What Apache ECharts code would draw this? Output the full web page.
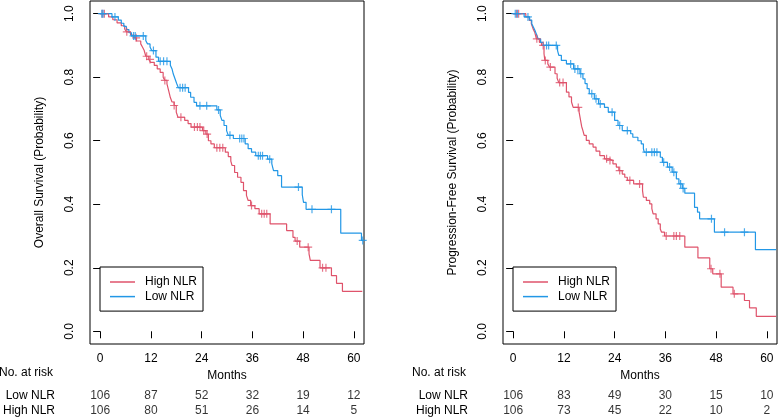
<!DOCTYPE html>
<html>
<head>
<meta charset="utf-8">
<script src="https://cdn.jsdelivr.net/npm/echarts@6/dist/echarts.min.js"></script>
<style>
html,body{margin:0;padding:0;background:#fff;}
#chart{width:778px;height:419px;}
</style>
</head>
<body>
<div id="chart"></div>
<script>
// ---------- data ----------
const monthTicks = [0, 12, 24, 36, 48, 60];
const probTicks = [0, 0.2, 0.4, 0.6, 0.8, 1.0];
const groupNames = ['High NLR', 'Low NLR'];
const riskRows = ['High NLR', 'Low NLR'];

// Overall survival, High NLR
const osHighTime = [0,2.0,3.0,4.0,5.0,5.8,6.2,7.2,8.0,8.6,9.6,10.0,10.4,10.8,11.5,11.9,12.8,13.5,14.2,14.9,15.3,15.8,16.2,16.6,17.0,17.5,18.0,18.4,20.0,20.8,21.5,24.2,25.0,25.6,26.2,27.0,29.6,30.3,30.9,31.2,31.8,32.5,33.3,33.9,34.6,35.0,35.6,36.6,37.6,40.2,44.1,45.6,46.1,47.2,49.4,49.7,52.0,54.7,55.9,57.3];
const osHighSurv = [1.0,0.99,0.981,0.971,0.962,0.952,0.943,0.933,0.924,0.914,0.905,0.895,0.885,0.866,0.856,0.847,0.837,0.826,0.815,0.80,0.79,0.779,0.758,0.736,0.722,0.711,0.69,0.674,0.664,0.654,0.643,0.632,0.621,0.60,0.59,0.578,0.564,0.55,0.536,0.522,0.50,0.485,0.469,0.443,0.428,0.412,0.396,0.386,0.37,0.338,0.317,0.296,0.284,0.265,0.244,0.223,0.20,0.175,0.151,0.126];
const osHighCensor = [0.5,1.0,6.3,8.5,11.0,11.8,15.3,17.5,19.1,22.3,23.0,23.6,24.5,25.3,27.6,28.3,29.0,35.8,38.2,38.8,39.4,46.6,49.2,52.6,53.4];
const osHighEnd = 62.0;

// Overall survival, Low NLR
const osLowTime = [0,2.8,4.3,5.0,5.6,6.2,6.8,7.4,10.8,11.2,11.8,12.2,13.2,13.8,16.6,17.0,17.3,17.7,18.1,18.5,20.9,21.4,22.2,22.8,27.6,28.4,28.8,29.3,29.9,30.3,31.5,34.3,35.0,35.8,36.8,39.6,40.6,41.0,42.0,42.9,47.8,48.1,48.7,56.9,61.8];
const osLowSurv = [1.0,0.99,0.98,0.97,0.96,0.95,0.94,0.93,0.915,0.905,0.895,0.884,0.863,0.85,0.838,0.826,0.81,0.795,0.78,0.767,0.752,0.737,0.721,0.71,0.697,0.68,0.664,0.648,0.632,0.617,0.607,0.59,0.575,0.564,0.553,0.542,0.527,0.506,0.49,0.454,0.43,0.406,0.384,0.309,0.286];
const osLowCensor = [0.4,0.7,3.5,7.9,8.3,10.2,12.6,14.2,15.0,15.8,18.9,19.5,20.1,23.6,25.2,28.0,30.7,33.0,33.5,34.0,37.4,37.9,38.4,40.1,46.9,50.1,54.7,62.1];
const osLowEnd = 62.2;

// Progression-free survival, High NLR
const pfsHighTime = [0,3.0,3.8,4.3,4.7,5.1,5.5,6.2,6.7,7.3,7.5,8.2,8.6,9.9,10.4,10.8,12.6,13.2,13.8,14.2,15.6,15.8,16.0,16.2,16.5,16.8,17.3,18.0,18.9,19.6,20.5,21.6,22.5,23.6,24.4,25.0,25.8,26.4,27.0,28.5,30.6,30.8,31.5,32.3,32.8,33.1,33.8,34.3,34.8,35.1,35.8,40.6,43.7,46.5,47.2,49.2,52.0,54.7,55.9,57.5];
const pfsHighSurv = [1.0,0.99,0.979,0.968,0.953,0.942,0.921,0.91,0.9,0.874,0.853,0.842,0.832,0.811,0.797,0.783,0.753,0.738,0.722,0.705,0.69,0.675,0.66,0.645,0.632,0.617,0.601,0.59,0.58,0.567,0.553,0.543,0.538,0.527,0.517,0.506,0.495,0.485,0.475,0.464,0.443,0.422,0.412,0.401,0.386,0.37,0.354,0.338,0.322,0.312,0.30,0.265,0.231,0.197,0.181,0.139,0.118,0.097,0.074,0.047];
const pfsHighCensor = [0.8,1.3,5.6,7.1,7.6,8.8,11.0,11.8,15.4,22.1,22.9,25.2,27.6,29.9,36.2,38.0,38.6,39.4,46.8,48.9,52.3];
const pfsHighEnd = 62.2;

// Progression-free survival, Low NLR
const pfsLowTime = [0,2.6,3.9,4.4,4.8,5.2,5.6,5.9,6.5,7.1,10.5,10.8,11.4,12.6,14.3,15.8,16.5,17.0,17.5,18.0,19.2,20.2,21.6,22.5,24.0,24.8,25.8,27.8,28.3,29.5,30.3,30.8,31.0,34.8,35.3,36.5,37.6,38.6,39.2,40.0,40.6,42.9,43.6,44.1,47.6,57.3];
const pfsLowSurv = [1.0,0.99,0.98,0.968,0.957,0.946,0.932,0.921,0.91,0.9,0.884,0.869,0.853,0.842,0.826,0.811,0.795,0.78,0.764,0.748,0.732,0.716,0.705,0.69,0.664,0.648,0.632,0.622,0.611,0.60,0.59,0.575,0.564,0.548,0.532,0.517,0.501,0.48,0.464,0.45,0.435,0.39,0.375,0.354,0.312,0.257];
const pfsLowCensor = [0.5,1.0,3.5,7.9,8.4,10.2,13.6,14.6,15.3,16.0,18.6,19.6,20.6,23.4,25.2,27.0,31.5,32.8,33.4,34.0,35.6,37.0,38.0,39.6,40.2,46.9,50.0,54.7];
const pfsLowEnd = 62.2;

// Numbers at risk
const osRiskLow = [106, 87, 52, 32, 19, 12];
const osRiskHigh = [106, 80, 51, 26, 14, 5];
const pfsRiskLow = [106, 83, 49, 30, 15, 10];
const pfsRiskHigh = [106, 73, 45, 22, 10, 2];

// ---------- helpers ----------
const RED = '#DF536B', BLUE = '#2297E6';
const FONT = "'Liberation Sans', Arial, Helvetica, sans-serif";
function stepData(times, surv, end) {
  const d = times.map((t, i) => [t, surv[i]]);
  d.push([end, surv[surv.length - 1]]);
  return d;
}
function survAt(times, surv, t) {
  let s = surv[0];
  for (let i = 0; i < times.length; i++) { if (times[i] <= t) s = surv[i]; }
  return s;
}
function censorData(times, surv, cens) {
  return cens.map(t => [t, survAt(times, surv, t)]);
}
const PLUS = 'path://M0,5L10,5M5,0L5,10';

const panels = [
  { left: 90, ytitle: 'Overall Survival (Probability)',
    high: [osHighTime, osHighSurv, osHighCensor, osHighEnd],
    low: [osLowTime, osLowSurv, osLowCensor, osLowEnd],
    riskLow: osRiskLow, riskHigh: osRiskHigh },
  { left: 503, ytitle: 'Progression-Free Survival (Probability)',
    high: [pfsHighTime, pfsHighSurv, pfsHighCensor, pfsHighEnd],
    low: [pfsLowTime, pfsLowSurv, pfsLowCensor, pfsLowEnd],
    riskLow: pfsRiskLow, riskHigh: pfsRiskHigh }
];

const grid = [], xAxis = [], yAxis = [], series = [], legend = [], graphic = [];
const W = 274;
panels.forEach((p, k) => {
  const gi = k * 2, ri = k * 2 + 1;
  grid.push({ left: p.left, top: 1, width: W, height: 343, show: true, borderColor: '#000', borderWidth: 1, backgroundColor: 'transparent' });
  grid.push({ left: p.left, top: 388.6, width: W, height: 29.4, show: false });
  xAxis.push({
    gridIndex: gi, type: 'value', min: -2.4, max: 62.4,
    axisLine: { show: false },
    axisTick: { show: true, customValues: monthTicks, length: 7, lineStyle: { color: '#000', width: 1 } },
    axisLabel: { customValues: monthTicks, margin: 9, color: '#000', fontSize: 12, fontFamily: FONT },
    splitLine: { show: false },
    name: 'Months', nameLocation: 'middle', nameGap: 23,
    nameTextStyle: { color: '#000', fontSize: 12, fontFamily: FONT }
  });
  xAxis.push({ gridIndex: ri, type: 'value', min: -2.4, max: 62.4, show: false });
  yAxis.push({
    gridIndex: gi, type: 'value', min: -0.04, max: 1.04,
    axisLine: { show: false },
    axisTick: { show: true, customValues: probTicks, length: 7, lineStyle: { color: '#000', width: 1 } },
    axisLabel: { customValues: probTicks, rotate: 90, margin: 14, color: '#000', fontSize: 12, fontFamily: FONT,
      formatter: v => Number(v).toFixed(1) },
    splitLine: { show: false },
    name: p.ytitle, nameLocation: 'middle', nameGap: 44, nameRotate: 90,
    nameTextStyle: { color: '#000', fontSize: 12, fontFamily: FONT }
  });
  yAxis.push({
    gridIndex: ri, type: 'category', data: riskRows,
    axisLine: { show: false }, axisTick: { show: false }, splitLine: { show: false },
    axisLabel: { interval: 0, margin: 35, color: '#000', fontSize: 12, fontFamily: FONT }
  });
  const curves = [['High NLR', p.high, RED], ['Low NLR', p.low, BLUE]];
  curves.forEach(([name, d, col]) => {
    series.push({
      name: name, type: 'line', xAxisIndex: gi, yAxisIndex: gi, step: 'end',
      symbol: 'none', data: stepData(d[0], d[1], d[3]),
      lineStyle: { color: col, width: 1.2 }, itemStyle: { color: col }, z: 3
    });
    series.push({
      name: name + ' censored', type: 'scatter', xAxisIndex: gi, yAxisIndex: gi,
      symbol: PLUS, symbolSize: 8, data: censorData(d[0], d[1], d[2]),
      itemStyle: { color: 'transparent', borderColor: col, borderWidth: 1.2 }, z: 4
    });
  });
  const riskData = [];
  monthTicks.forEach((m, i) => {
    riskData.push([m, 'Low NLR', p.riskLow[i]]);
    riskData.push([m, 'High NLR', p.riskHigh[i]]);
  });
  series.push({
    name: 'risk' + k, type: 'scatter', xAxisIndex: ri, yAxisIndex: ri,
    symbolSize: 0, data: riskData,
    label: { show: true, position: 'inside', formatter: q => String(q.value[2]), color: '#000', fontSize: 12, fontFamily: FONT }
  });
  legend.push({
    left: p.left + 10, top: 267, orient: 'vertical', data: groupNames,
    icon: 'rect', itemWidth: 25, itemHeight: 1.5, itemGap: 2.6, padding: [9, 6, 8.5, 10],
    borderColor: '#000', borderWidth: 1, selectedMode: false,
    textStyle: { color: '#000', fontSize: 12, lineHeight: 12, fontFamily: FONT, padding: [0, 0, 0, 5] }
  });
  graphic.push({
    type: 'text', left: p.left - 35 - 56, top: 367,
    style: { text: 'No. at risk', fill: '#000', fontSize: 12, fontFamily: FONT, align: 'right', width: 56 }
  });
});

const chart = echarts.init(document.getElementById('chart'), null, { renderer: 'canvas' });
chart.setOption({
  animation: false,
  textStyle: { fontFamily: FONT },
  grid, xAxis, yAxis, series, legend, graphic
});
</script>
</body>
</html>
